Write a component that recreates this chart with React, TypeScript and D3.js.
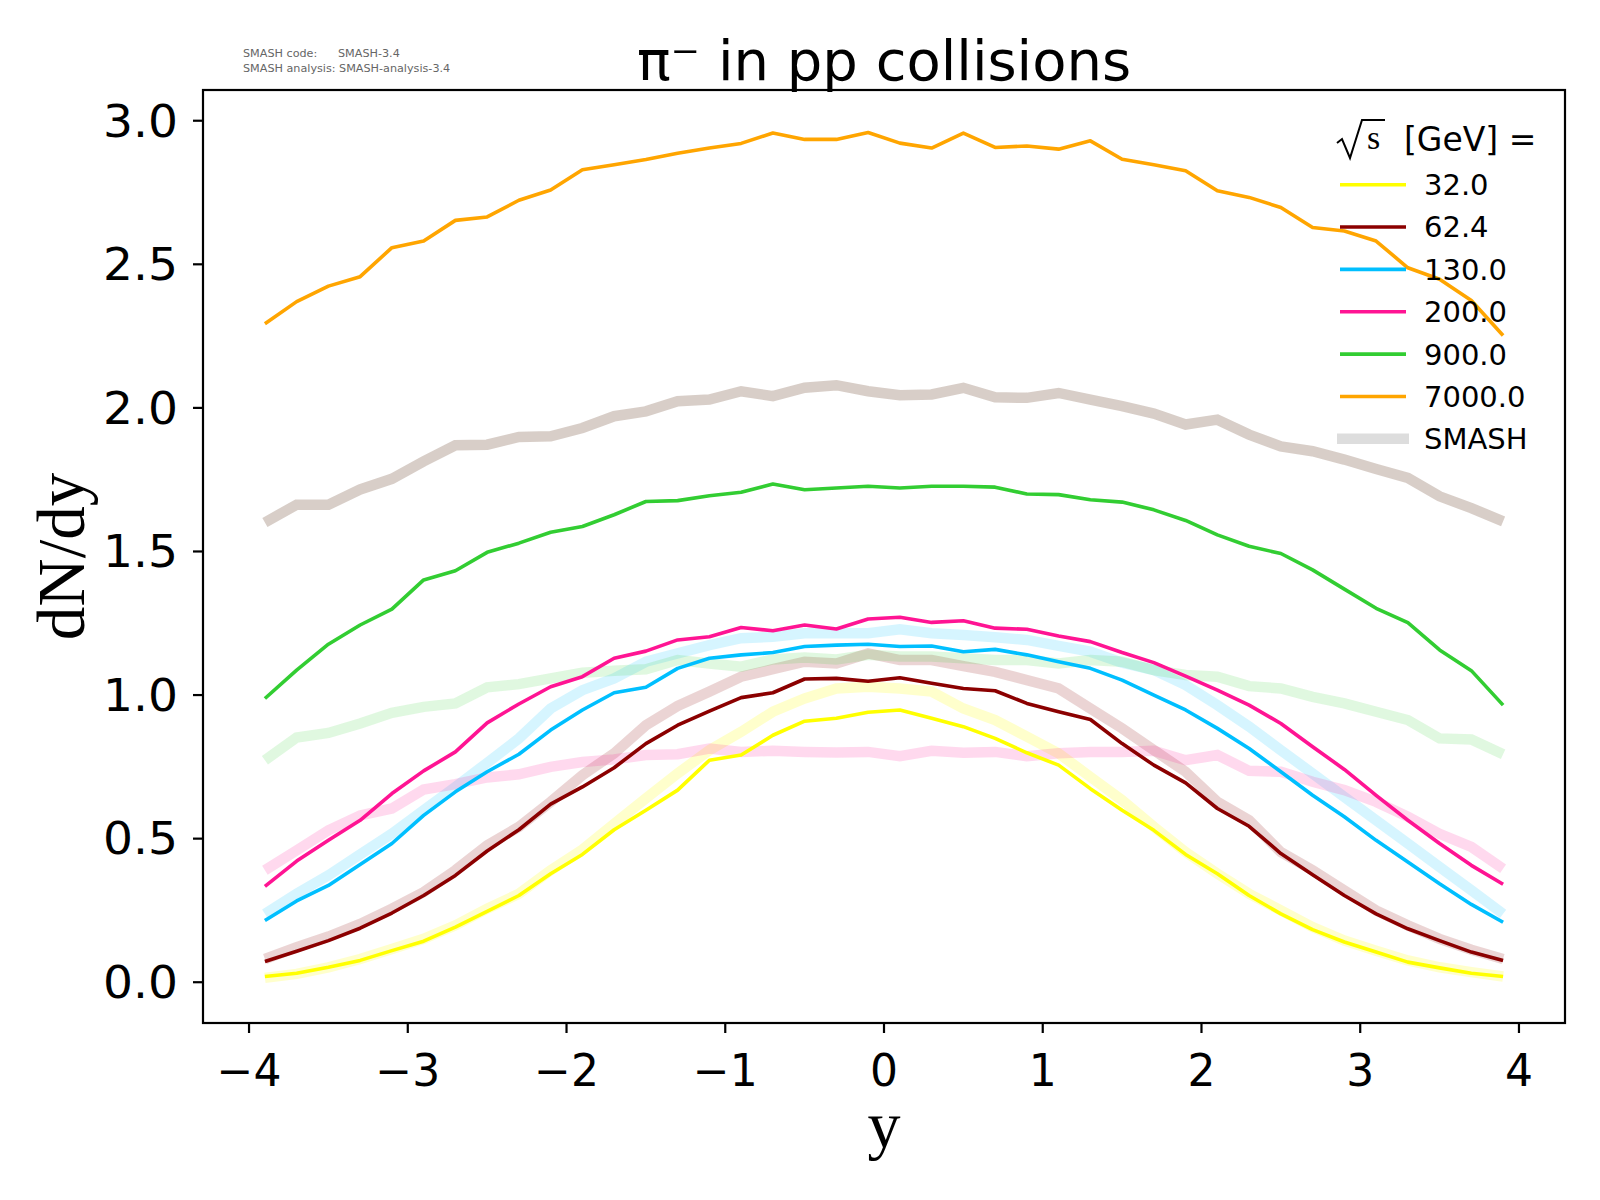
import React from 'react';
import * as d3 from 'd3';

// rapidity bins
const rapidity = [
  -3.9, -3.7, -3.5, -3.3, -3.1, -2.9, -2.7, -2.5, -2.3, -2.1, -1.9, -1.7, -1.5, -1.3, -1.1, -0.9, -0.7, -0.5, -0.3, -0.1,
  0.1, 0.3, 0.5, 0.7, 0.9, 1.1, 1.3, 1.5, 1.7, 1.9, 2.1, 2.3, 2.5, 2.7, 2.9, 3.1, 3.3, 3.5, 3.7, 3.9,
];

const energies = ['32.0', '62.4', '130.0', '200.0', '900.0', '7000.0'];
const colors = ['#ffff00', '#8b0000', '#00bfff', '#ff1493', '#32cd32', '#ffa500'];
const smashColors = ['#ffff00', '#8b0000', '#00bfff', '#ff1493', '#32cd32', '#6e4a35'];
const smashOpacity = [0.2, 0.17, 0.16, 0.16, 0.15, 0.27];

// measured dN/dy
const data32 = [
  0.020, 0.031, 0.052, 0.076, 0.110, 0.143, 0.192, 0.247, 0.302, 0.378, 0.445, 0.531, 0.599, 0.669, 0.773, 0.791, 0.860, 0.909, 0.919, 0.940,
  0.948, 0.919, 0.890, 0.849, 0.799, 0.756, 0.674, 0.599, 0.529, 0.445, 0.378, 0.302, 0.238, 0.183, 0.140, 0.105, 0.070, 0.050, 0.031, 0.020,
];
const data62 = [
  0.072, 0.108, 0.145, 0.188, 0.241, 0.302, 0.372, 0.457, 0.531, 0.620, 0.680, 0.747, 0.831, 0.895, 0.944, 0.991, 1.008, 1.056, 1.058, 1.048,
  1.060, 1.041, 1.023, 1.015, 0.971, 0.942, 0.915, 0.831, 0.756, 0.694, 0.605, 0.543, 0.448, 0.374, 0.302, 0.238, 0.186, 0.145, 0.105, 0.076,
];
const data130 = [
  0.215, 0.283, 0.337, 0.410, 0.483, 0.581, 0.663, 0.733, 0.794, 0.878, 0.948, 1.008, 1.027, 1.093, 1.128, 1.140, 1.148, 1.169, 1.174, 1.177,
  1.169, 1.171, 1.151, 1.159, 1.140, 1.116, 1.093, 1.052, 1.000, 0.948, 0.884, 0.814, 0.733, 0.651, 0.576, 0.494, 0.419, 0.343, 0.271, 0.209,
];
const data200 = [
  0.334, 0.422, 0.494, 0.564, 0.657, 0.736, 0.802, 0.903, 0.969, 1.029, 1.064, 1.128, 1.153, 1.192, 1.203, 1.235, 1.224, 1.244, 1.230, 1.265,
  1.271, 1.253, 1.259, 1.233, 1.229, 1.206, 1.186, 1.148, 1.113, 1.066, 1.017, 0.965, 0.901, 0.820, 0.741, 0.651, 0.564, 0.483, 0.407, 0.341,
];
const data900 = [
  0.988, 1.087, 1.177, 1.244, 1.299, 1.401, 1.433, 1.497, 1.529, 1.567, 1.587, 1.628, 1.674, 1.677, 1.694, 1.706, 1.735, 1.715, 1.721, 1.727,
  1.721, 1.727, 1.727, 1.724, 1.700, 1.698, 1.680, 1.672, 1.645, 1.608, 1.558, 1.518, 1.493, 1.436, 1.369, 1.302, 1.252, 1.157, 1.085, 0.965,
];
const data7000 = [
  2.293, 2.370, 2.424, 2.457, 2.558, 2.581, 2.653, 2.665, 2.723, 2.759, 2.829, 2.847, 2.865, 2.887, 2.905, 2.921, 2.957, 2.935, 2.935, 2.959,
  2.922, 2.905, 2.957, 2.907, 2.912, 2.901, 2.930, 2.866, 2.847, 2.826, 2.756, 2.733, 2.698, 2.628, 2.616, 2.581, 2.488, 2.448, 2.374, 2.252,
];

// SMASH dN/dy
const smash32 = [
  0.015, 0.029, 0.052, 0.081, 0.116, 0.151, 0.198, 0.256, 0.308, 0.390, 0.462, 0.552, 0.640, 0.727, 0.808, 0.872, 0.942, 0.988, 1.023, 1.029,
  1.023, 1.012, 0.953, 0.913, 0.855, 0.797, 0.715, 0.634, 0.541, 0.453, 0.378, 0.308, 0.250, 0.192, 0.145, 0.110, 0.076, 0.052, 0.035, 0.020,
];
const smash62 = [
  0.081, 0.122, 0.159, 0.203, 0.256, 0.314, 0.390, 0.477, 0.541, 0.628, 0.721, 0.797, 0.895, 0.962, 1.012, 1.064, 1.090, 1.116, 1.110, 1.145,
  1.122, 1.122, 1.101, 1.081, 1.052, 1.023, 0.953, 0.884, 0.808, 0.733, 0.628, 0.564, 0.453, 0.390, 0.320, 0.250, 0.198, 0.151, 0.113, 0.081,
];
const smash130 = [
  0.238, 0.308, 0.372, 0.445, 0.517, 0.599, 0.680, 0.764, 0.849, 0.953, 1.017, 1.058, 1.116, 1.145, 1.174, 1.198, 1.203, 1.215, 1.215, 1.215,
  1.229, 1.215, 1.209, 1.201, 1.192, 1.171, 1.151, 1.113, 1.087, 1.035, 0.965, 0.890, 0.808, 0.727, 0.645, 0.564, 0.483, 0.401, 0.320, 0.238,
];
const smash200 = [
  0.390, 0.459, 0.529, 0.581, 0.605, 0.671, 0.690, 0.713, 0.724, 0.750, 0.767, 0.776, 0.791, 0.794, 0.814, 0.802, 0.806, 0.802, 0.800, 0.802,
  0.787, 0.806, 0.799, 0.802, 0.787, 0.797, 0.802, 0.802, 0.806, 0.773, 0.791, 0.736, 0.733, 0.698, 0.669, 0.628, 0.576, 0.517, 0.471, 0.395,
];
const smash900 = [
  0.773, 0.852, 0.868, 0.901, 0.938, 0.959, 0.971, 1.027, 1.038, 1.058, 1.078, 1.085, 1.090, 1.122, 1.110, 1.099, 1.124, 1.131, 1.124, 1.140,
  1.134, 1.134, 1.128, 1.122, 1.122, 1.110, 1.122, 1.116, 1.087, 1.070, 1.064, 1.031, 1.023, 0.994, 0.971, 0.942, 0.913, 0.849, 0.845, 0.794,
];
const smash7000 = [
  1.601, 1.663, 1.663, 1.716, 1.753, 1.814, 1.870, 1.872, 1.899, 1.901, 1.930, 1.971, 1.988, 2.023, 2.029, 2.058, 2.041, 2.070, 2.079, 2.058,
  2.044, 2.047, 2.070, 2.037, 2.035, 2.052, 2.029, 2.006, 1.980, 1.942, 1.959, 1.907, 1.866, 1.849, 1.820, 1.787, 1.756, 1.692, 1.651, 1.605,
];

const measured = [data32, data62, data130, data200, data900, data7000];
const smash = [smash32, smash62, smash130, smash200, smash900, smash7000];

const xTicks = [-4, -3, -2, -1, 0, 1, 2, 3, 4];
const yTicks = [0, 0.5, 1.0, 1.5, 2.0, 2.5, 3.0];

const W = 1600;
const H = 1200;
const margin = { top: 90, right: 35, bottom: 177, left: 203 };
const SANS = '"DejaVu Sans", sans-serif';
const SERIF = '"Liberation Serif", "Times New Roman", serif';

export default function App() {
  const x = d3.scaleLinear().domain([-4.29, 4.29]).range([margin.left, W - margin.right]);
  const y = d3.scaleLinear().domain([-0.142, 3.107]).range([H - margin.bottom, margin.top]);
  const plotW = W - margin.left - margin.right;
  const plotH = H - margin.top - margin.bottom;

  const line = d3
    .line<number>()
    .x((_, i) => x(rapidity[i]))
    .y((d) => y(d));

  const fmt = (v: number) => (v < 0 ? '\u2212' + Math.abs(v) : String(v));

  const legendX = 1340;
  const legendY0 = 184.7;
  const legendStep = 42.35;

  return (
    <div style={{ position: 'absolute', left: 0, top: 0 }}>
      <svg width={W} height={H} style={{ display: 'block', background: 'white' }}>
        <defs>
          <clipPath id="plot">
            <rect x={margin.left} y={margin.top} width={plotW} height={plotH} />
          </clipPath>
        </defs>

        <g clipPath="url(#plot)">
          {/* SMASH bands */}
          {smash.map((s, i) => (
            <path key={'s' + i} d={line(s) ?? ''} fill="none" stroke={smashColors[i]} strokeOpacity={smashOpacity[i]}
              strokeWidth={10.5} />
          ))}
          {/* measured */}
          {measured.map((s, i) => (
            <path key={'m' + i} d={line(s) ?? ''} fill="none" stroke={colors[i]} strokeWidth={3.6} strokeLinejoin="round" />
          ))}
        </g>

        {/* frame */}
        <rect x={margin.left} y={margin.top} width={plotW} height={plotH} fill="none" stroke="black" strokeWidth={2.2} />

        {/* x axis */}
        {xTicks.map((t) => (
          <g key={'xt' + t}>
            <line x1={x(t)} x2={x(t)} y1={H - margin.bottom} y2={H - margin.bottom + 10} stroke="black" strokeWidth={2.2} />
            <text x={x(t)} y={1086} textAnchor="middle" fontFamily={SANS} fontSize={44} fill="black">
              {fmt(t)}
            </text>
          </g>
        ))}
        <text x={x(0)} y={1147} textAnchor="middle" fontFamily={SERIF} fontSize={66} fill="black">y</text>

        {/* y axis */}
        {yTicks.map((t) => (
          <g key={'yt' + t}>
            <line x1={margin.left - 10} x2={margin.left} y1={y(t)} y2={y(t)} stroke="black" strokeWidth={2.2} />
            <text x={margin.left - 25} y={y(t)} dy="0.36em" textAnchor="end" fontFamily={SANS} fontSize={44}
              textLength={75} lengthAdjust="spacingAndGlyphs" fill="black">
              {t.toFixed(1)}
            </text>
          </g>
        ))}
        <text transform={`translate(84,${margin.top + plotH / 2}) rotate(-90)`} textAnchor="middle"
          fontFamily={SERIF} fontSize={67} fill="black">
          dN/dy
        </text>

        {/* title */}
        <text x={x(0)} y={80} textAnchor="middle" fontFamily={SANS} fontSize={56} fill="black">
          π⁻ in pp collisions
        </text>

        {/* version note */}
        <g fontFamily={SANS} fontSize={11.2} fill="#666">
          <text x={243} y={57}>SMASH code:</text>
          <text x={338} y={57}>SMASH-3.4</text>
          <text x={243} y={72}>SMASH analysis: SMASH-analysis-3.4</text>
        </g>

        {/* legend */}
        <g>
          <path d="M1337,143 L1342,139 L1350,158 L1362,120 L1385,120" fill="none" stroke="black" strokeWidth={2} />
          <text x={1367} y={149} fontFamily={SERIF} fontSize={34} fill="black">s</text>
          <text x={1404} y={151} fontFamily={SANS} fontSize={33} fill="black">[GeV] =</text>
          {energies.map((e, i) => (
            <g key={'l' + i}>
              <line x1={legendX} x2={legendX + 66} y1={legendY0 + i * legendStep} y2={legendY0 + i * legendStep}
                stroke={colors[i]} strokeWidth={3.6} />
              <text x={1424} y={legendY0 + i * legendStep} dy="0.36em" fontFamily={SANS} fontSize={29} fill="black">{e}</text>
            </g>
          ))}
          <line x1={legendX - 3} x2={legendX + 69} y1={legendY0 + 6 * legendStep} y2={legendY0 + 6 * legendStep}
            stroke="#dddddd" strokeWidth={10.5} />
          <text x={1424} y={legendY0 + 6 * legendStep} dy="0.36em" fontFamily={SANS} fontSize={29} fill="black">SMASH</text>
        </g>
      </svg>
    </div>
  );
}
